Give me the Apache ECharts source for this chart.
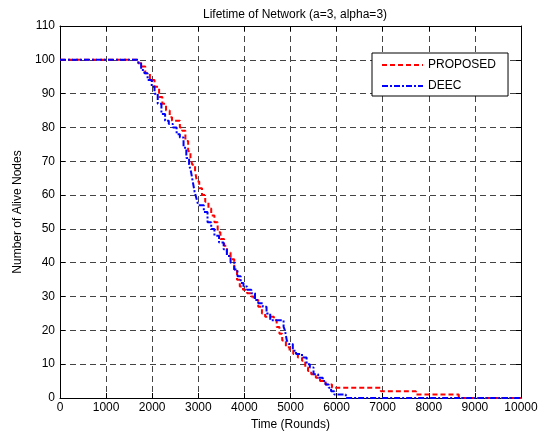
<!DOCTYPE html>
<html>
<head>
<meta charset="utf-8">
<script src="https://cdn.jsdelivr.net/npm/echarts@6/dist/echarts.min.js"></script>
<style>
  html, body { margin: 0; padding: 0; background: #fff; }
  #chart { width: 545px; height: 438px; }
</style>
</head>
<body>
<div id="chart"></div>
<script>
// PROPOSED: round at which alive count changes, and the count from there on
const proposedT = [0, 1700, 1780, 1850, 1950, 2050, 2150, 2220, 2300, 2380, 2430, 2600, 2650, 2720, 2780,
  2830, 2870, 2930, 2970, 3020, 3080, 3150, 3220, 3280, 3350, 3420, 3480, 3560, 3620, 3700, 3780,
  3840, 3900, 3970, 4060, 4150, 4200, 4300, 4380, 4450, 4640, 4700, 4760, 4820, 4900, 4980, 5060,
  5160, 5250, 5320, 5380, 5450, 5550, 5640, 5760, 5900, 6960, 7720, 8650, 10000]
const proposedV = [100, 99, 98, 96, 94, 92, 89, 87, 85, 83, 82, 80, 79, 76, 73,
  71, 69, 67, 64, 62, 60, 58, 56, 54, 52, 49, 47, 45, 43, 41, 38,
  35, 33, 32, 31, 30, 29, 27, 25, 24, 23, 21, 19, 17, 15, 14, 13,
  12, 11, 9, 8, 7, 6, 5, 4, 3, 2, 1, 0, 0]

// DEEC
const deecT = [0, 1700, 1760, 1830, 1900, 1990, 2050, 2120, 2200, 2280, 2360, 2450, 2530, 2600, 2680,
  2740, 2800, 2840, 2880, 2920, 2960, 3000, 3120, 3200, 3280, 3350, 3450, 3550, 3620, 3700, 3780,
  3850, 3920, 3980, 4060, 4150, 4230, 4300, 4400, 4480, 4560, 4850, 4880, 4920, 4960, 5050, 5120,
  5250, 5350, 5420, 5500, 5600, 5700, 5760, 5830, 5880, 5950, 6200, 10000]
const deecV = [100, 99, 97, 96, 94, 92, 90, 87, 84, 82, 81, 80, 78, 77, 74,
  71, 69, 67, 64, 61, 59, 57, 55, 52, 50, 48, 46, 44, 42, 40, 38,
  36, 34, 33, 32, 31, 29, 28, 27, 25, 23, 21, 20, 17, 16, 14, 13,
  12, 10, 9, 7, 6, 5, 4, 3, 2, 1, 0, 0]

const xTicks = { min: 0, max: 10000, step: 1000 }
const yTicks = { min: 0, max: 110, step: 10 }

const font = 'Liberation Sans, Arial, sans-serif'
const zip = (t, v) => t.map((x, i) => [x, v[i]])

const chart = echarts.init(document.getElementById('chart'))

const gridLine = { show: true, lineStyle: { color: '#444', type: [6, 4], width: 1 } }
const frameLine = { show: true, onZero: false, lineStyle: { color: '#000', width: 1 } }
const tick = { show: true, inside: true, length: 5, lineStyle: { color: '#000' } }

const option = {
  animation: false,
  backgroundColor: '#fff',
  title: {
    text: 'Lifetime of Network (a=3, alpha=3)',
    left: 290,
    textAlign: 'center',
    top: 4,
    textStyle: { fontFamily: font, fontSize: 12, fontWeight: 'normal', color: '#000' }
  },
  grid: { left: 60, right: 24, top: 26, bottom: 40 },
  legend: {
    left: 372,
    top: 53,
    orient: 'vertical',
    backgroundColor: '#fff',
    borderColor: '#000',
    borderWidth: 1,
    borderRadius: 0,
    padding: [6, 12, 4, 9],
    itemWidth: 41,
    itemHeight: 14,
    itemGap: 9,
    itemStyle: { opacity: 0 },
    textStyle: { fontFamily: font, fontSize: 12, color: '#000' },
    data: ['PROPOSED', 'DEEC']
  },
  xAxis: [
    {
      type: 'value',
      min: xTicks.min, max: xTicks.max, interval: xTicks.step,
      name: 'Time (Rounds)',
      nameLocation: 'middle',
      nameGap: 15,
      nameTextStyle: { fontFamily: font, fontSize: 12, color: '#000' },
      axisLine: frameLine,
      axisTick: tick,
      axisLabel: { fontFamily: font, fontSize: 12, color: '#000', margin: 4, formatter: v => String(v) },
      splitLine: gridLine
    },
    {
      type: 'value', position: 'top',
      min: xTicks.min, max: xTicks.max, interval: xTicks.step,
      axisLine: frameLine, axisTick: tick,
      axisLabel: { show: false }, splitLine: { show: false }
    }
  ],
  yAxis: [
    {
      type: 'value',
      min: yTicks.min, max: yTicks.max, interval: yTicks.step,
      name: 'Number of Alive Nodes',
      nameLocation: 'middle',
      nameGap: 36,
      nameTextStyle: { fontFamily: font, fontSize: 12, color: '#000' },
      axisLine: frameLine,
      axisTick: tick,
      axisLabel: { fontFamily: font, fontSize: 12, color: '#000', margin: 5 },
      splitLine: gridLine
    },
    {
      type: 'value', position: 'right',
      min: yTicks.min, max: yTicks.max, interval: yTicks.step,
      axisLine: frameLine, axisTick: tick,
      axisLabel: { show: false }, splitLine: { show: false }
    }
  ],
  series: [
    {
      name: 'PROPOSED',
      type: 'line',
      step: 'end',
      symbol: 'none',
      color: '#ff0000',
      lineStyle: { color: '#ff0000', width: 2, type: [5, 3] },
      data: zip(proposedT, proposedV)
    },
    {
      name: 'DEEC',
      type: 'line',
      step: 'end',
      symbol: 'none',
      color: '#0000ff',
      lineStyle: { color: '#0000ff', width: 2, type: [6, 2, 2, 2] },
      data: zip(deecT, deecV)
    }
  ]
}

chart.setOption(option)
</script>
</body>
</html>
